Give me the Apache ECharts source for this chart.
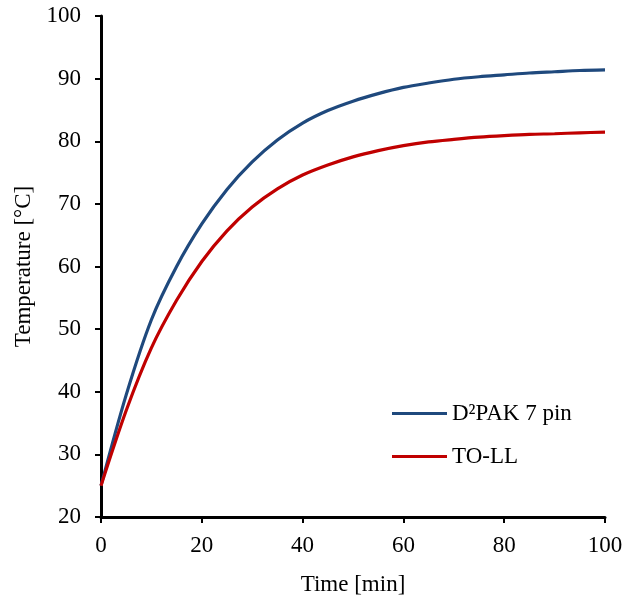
<!DOCTYPE html>
<html>
<head>
<meta charset="utf-8">
<script src="https://cdn.jsdelivr.net/npm/echarts@6/dist/echarts.min.js"></script>
<style>
html,body{margin:0;padding:0;background:#fff;}
#c{width:634px;height:597px;}
</style>
</head>
<body>
<div id="c"></div>
<script>
var timeMin = [0,5,10,15,20,25,30,35,40,45,50,55,60,65,70,75,80,85,90,95,100];
var d2pak7pin = [25.0,39.5,51.5,60.0,66.8,72.3,76.7,80.2,82.9,84.9,86.4,87.6,88.6,89.3,89.9,90.3,90.6,90.9,91.1,91.3,91.4];
var toLL = [25.0,37.0,47.0,54.6,60.8,65.7,69.5,72.4,74.6,76.2,77.5,78.5,79.3,79.9,80.3,80.65,80.9,81.1,81.2,81.35,81.45];
var seriesNames = ['D\u00B2PAK 7 pin', 'TO-LL'];
var seriesColors = ['#1F497D', '#C00000'];

function pairs(xs, ys){ return xs.map(function(x,i){ return [x, ys[i]]; }); }

var font = '"Liberation Serif", "Times New Roman", serif';
var chart = echarts.init(document.getElementById('c'), null, {renderer:'canvas'});
chart.setOption({
  animation:false,
  backgroundColor:'#ffffff',
  textStyle:{fontFamily:font},
  grid:{left:101, top:16, right:29, bottom:80, containLabel:false, outerBoundsMode:'none'},
  legend:{
    orient:'vertical', left:387, top:397,
    itemWidth:55, itemHeight:14, itemGap:20,
    data:[{name:seriesNames[0]},{name:seriesNames[1]}],
    textStyle:{fontFamily:font, fontSize:23, color:'#000'},
    icon:'path://M0,0 L55,0 L55,3 L0,3 Z'
  },
  xAxis:{
    type:'value', min:0, max:100, interval:20,
    name:'Time [min]', nameLocation:'middle', nameGap:56,
    nameTextStyle:{fontFamily:font, fontSize:23, color:'#000'},
    axisLine:{show:true, lineStyle:{color:'#000', width:3}},
    axisTick:{show:true, inside:false, length:6, lineStyle:{color:'#000', width:2}},
    axisLabel:{fontFamily:font, fontSize:23, color:'#000', margin:17},
    splitLine:{show:false}
  },
  yAxis:{
    type:'value', min:20, max:100, interval:10,
    name:'Temperature [\u00B0C]', nameLocation:'middle', nameGap:64, nameRotate:90,
    nameTextStyle:{fontFamily:font, fontSize:23, color:'#000'},
    axisLine:{show:true, lineStyle:{color:'#000', width:3}},
    axisTick:{show:true, inside:false, length:6, lineStyle:{color:'#000', width:2}},
    axisLabel:{fontFamily:font, fontSize:23, color:'#000', margin:20},
    splitLine:{show:false}
  },
  series:[
    {name:seriesNames[0], type:'line', data:pairs(timeMin, d2pak7pin), smooth:0.3, symbol:'none',
     lineStyle:{color:seriesColors[0], width:3.2}, itemStyle:{color:seriesColors[0]}},
    {name:seriesNames[1], type:'line', data:pairs(timeMin, toLL), smooth:0.3, symbol:'none',
     lineStyle:{color:seriesColors[1], width:3.2}, itemStyle:{color:seriesColors[1]}}
  ]
});
</script>
</body>
</html>
